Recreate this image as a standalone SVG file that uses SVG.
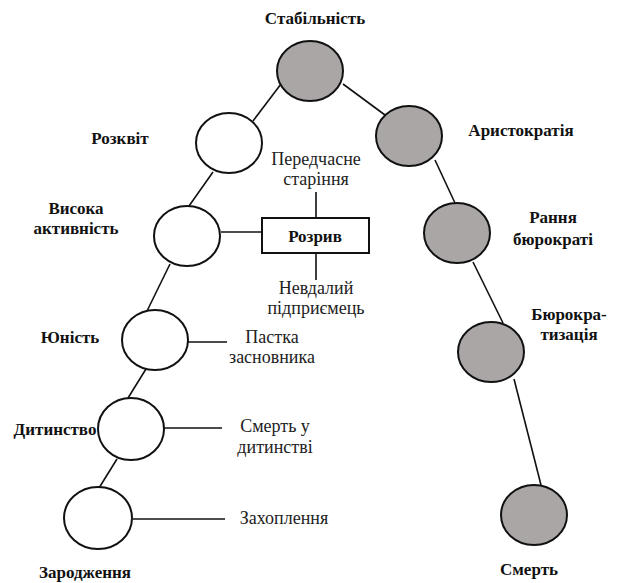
<svg xmlns="http://www.w3.org/2000/svg" width="620" height="583" viewBox="0 0 620 583">
<style>
.w{fill:#fff;stroke:#111;stroke-width:2}
.g{fill:#aaa6a6;stroke:#111;stroke-width:2}
.c line{stroke:#111;stroke-width:1.6}
.b{font-family:"Liberation Serif","DejaVu Serif",serif;font-weight:bold;font-size:17px;fill:#111;text-anchor:middle}
.r{font-family:"Liberation Serif","DejaVu Serif",serif;font-size:18px;fill:#222;text-anchor:middle}
</style>
<rect width="620" height="583" fill="#fff"/>
<g class="c" id="connectors">
<line x1="281" y1="84" x2="253" y2="121"/>
<line x1="213" y1="172" x2="189" y2="206"/>
<line x1="170" y1="264" x2="147" y2="311"/>
<line x1="146" y1="369" x2="128" y2="398"/>
<line x1="117" y1="459" x2="99" y2="488"/>
<line x1="343" y1="84" x2="385" y2="115"/>
<line x1="435" y1="160" x2="455" y2="203"/>
<line x1="473" y1="262" x2="503" y2="323"/>
<line x1="514" y1="379" x2="541" y2="485"/>
<line x1="221" y1="232" x2="261" y2="232"/>
<line x1="316" y1="192" x2="316" y2="218"/>
<line x1="316" y1="253" x2="316" y2="280"/>
<line x1="188" y1="342" x2="227" y2="342"/>
<line x1="164" y1="428" x2="222" y2="428"/>
<line x1="133" y1="519" x2="225" y2="519"/>
</g>
<g id="stabilnist"><ellipse class="g" cx="310" cy="71" rx="33" ry="30"/><text class="b" x="315" y="24">Стабільність</text></g>
<g id="rozkvit"><ellipse class="w" cx="229" cy="143" rx="33" ry="30"/><text class="b" x="120" y="144">Розквіт</text></g>
<g id="aristokratiia"><ellipse class="g" cx="409" cy="136" rx="33" ry="30"/><text class="b" x="521" y="136">Аристократія</text></g>
<g id="vysoka"><ellipse class="w" cx="187" cy="236" rx="33" ry="30"/><text class="b" x="76" y="214">Висока</text><text class="b" x="76" y="234">активність</text></g>
<g id="rozryv"><rect x="262" y="218" width="107" height="35" fill="#fff" stroke="#111" stroke-width="2"/><text class="b" x="315" y="242">Розрив</text></g>
<g id="peredchasne"><text class="r" x="316" y="165">Передчасне</text><text class="r" x="316" y="185">старіння</text></g>
<g id="nevdalyi"><text class="r" x="316" y="294">Невдалий</text><text class="r" x="316" y="314">підприємець</text></g>
<g id="rannia"><ellipse class="g" cx="457" cy="233" rx="33" ry="30"/><text class="b" x="553" y="223">Рання</text><text class="b" x="553" y="245">бюрократі</text></g>
<g id="biurokratyzatsiia"><ellipse class="g" cx="491" cy="352" rx="33" ry="30"/><text class="b" x="569" y="320">Бюрокра-</text><text class="b" x="569" y="340">тизація</text></g>
<g id="yunist"><ellipse class="w" cx="155" cy="340" rx="33" ry="30"/><text class="b" x="70" y="343">Юність</text></g>
<g id="pastka"><text class="r" x="272" y="343">Пастка</text><text class="r" x="272" y="363">засновника</text></g>
<g id="dytynstvo"><ellipse class="w" cx="131" cy="429" rx="33" ry="31"/><text class="b" x="55" y="435">Дитинство</text></g>
<g id="smert-dyt"><text class="r" x="275" y="432">Смерть у</text><text class="r" x="275" y="453">дитинстві</text></g>
<g id="zarodzhennia"><ellipse class="w" cx="98" cy="518" rx="34" ry="31"/><text class="b" x="85" y="578">Зародження</text></g>
<g id="zakhoplennia"><text class="r" x="284" y="524">Захоплення</text></g>
<g id="smert"><ellipse class="g" cx="534" cy="515" rx="33" ry="30"/><text class="b" x="529" y="575">Смерть</text></g>
</svg>
